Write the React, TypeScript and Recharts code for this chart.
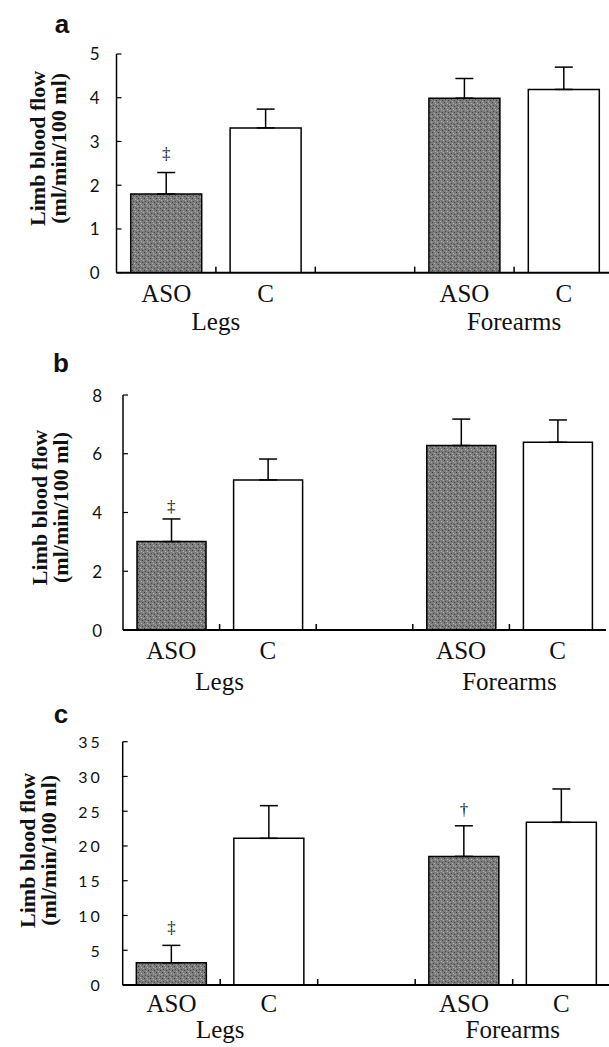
import React from 'react';
import { ComposedChart, Bar, Cell, ErrorBar, XAxis, YAxis, Scatter } from 'recharts';

// ---- shared categories ----
const categories = ['ASO', 'C', '', 'ASO', 'C'];
const catKeys = ['legs-ASO', 'legs-C', 'gap', 'fore-ASO', 'fore-C'];
const isPatient = [true, false, false, true, false];
// boundary tick marks sit after these category indices
const boundaryAfter = [0, 1, 2, 3];
// group labels are centred on the boundary after these category indices
const groupAfter = [0, 3];
const groupLabels = ['Legs', 'Forearms'];

// ---- panel a ----
const aValues = [1.8, 3.31, null, 3.99, 4.19];
const aErrors = [0.49, 0.43, null, 0.45, 0.51];
const aMarks = ['‡', '', '', '', ''];
const aMarkY = [2.72, null, null, null, null];
const aTicks = [0, 1, 2, 3, 4, 5];

// ---- panel b ----
const bValues = [3.01, 5.11, null, 6.28, 6.39];
const bErrors = [0.77, 0.71, null, 0.9, 0.76];
const bMarks = ['‡', '', '', '', ''];
const bMarkY = [4.2, null, null, null, null];
const bTicks = [0, 2, 4, 6, 8];

// ---- panel c ----
const cValues = [3.2, 21.1, null, 18.5, 23.4];
const cErrors = [2.5, 4.7, null, 4.4, 4.8];
const cMarks = ['‡', '', '', '†', ''];
const cMarkY = [8.2, null, null, 25.2, null];
const cTicks = [0, 5, 10, 15, 20, 25, 30, 35];

function buildRows(values: (number | null)[], errors: (number | null)[], marks: string[], markY: (number | null)[]) {
  return catKeys.map((k, i) => ({
    key: k,
    label: categories[i],
    value: values[i],
    err: errors[i] == null ? null : [0, errors[i]],
    mark: marks[i],
    markY: markY[i],
    patient: isPatient[i],
  }));
}

const SERIF = '"Liberation Serif", "Times New Roman", serif';
const SANS_TICK = 'Lato, "DejaVu Sans", sans-serif';

type PanelCfg = {
  letter: string;
  top: number;
  plotTop: number;
  plotLeft: number;
  plotWidth: number;
  plotHeight: number;
  ticks: number[];
  rows: any[];
  tickGap: number;
  tickFont: number;
  tickSpacing: number;
  titleX1: number;
  titleX2: number;
  titleShift: number;
  gapPct: string;
  catDy: number;
  grpDy: number;
};

const panels: PanelCfg[] = [
  {
    letter: 'a', top: 0, plotTop: 54, plotLeft: 116.5, plotWidth: 497, plotHeight: 218.7,
    ticks: aTicks, rows: buildRows(aValues, aErrors, aMarks, aMarkY),
    tickGap: 17, tickFont: 17, tickSpacing: 0, titleX1: 37, titleX2: 58, titleShift: -15, gapPct: '14.3%',
    catDy: 29, grpDy: 57,
  },
  {
    letter: 'b', top: 340, plotTop: 55, plotLeft: 123, plotWidth: 483, plotHeight: 235,
    ticks: bTicks, rows: buildRows(bValues, bErrors, bMarks, bMarkY),
    tickGap: 21, tickFont: 17, tickSpacing: 0, titleX1: 39, titleX2: 60, titleShift: -5, gapPct: '14.5%',
    catDy: 28.5, grpDy: 59.5,
  },
  {
    letter: 'c', top: 690, plotTop: 51.7, plotLeft: 122.7, plotWidth: 487.5, plotHeight: 243.3,
    ticks: cTicks, rows: buildRows(cValues, cErrors, cMarks, cMarkY),
    tickGap: 20, tickFont: 16, tickSpacing: 3, titleX1: 28, titleX2: 49, titleShift: -13, gapPct: '14%',
    catDy: 27, grpDy: 53,
  },
];

const letterPos = [
  { x: 62, y: 33 },
  { x: 61, y: 372 },
  { x: 61, y: 723 },
];

function XTick(props: any) {
  const { x, y, payload, band, catDy, grpDy } = props;
  const i = catKeys.indexOf(payload.value);
  const half = band / 2;
  const gi = groupAfter.indexOf(i);
  return (
    <g>
      {boundaryAfter.includes(i) && (
        <line x1={x + half} x2={x + half} y1={y} y2={y - 6} stroke="#000" strokeWidth={1.5} />
      )}
      <text x={x} y={y + catDy} textAnchor="middle" fontFamily={SERIF} fontSize={25} fill="#111">
        {categories[i]}
      </text>
      {gi >= 0 && (
        <text x={x + half} y={y + grpDy} textAnchor="middle" fontFamily={SERIF} fontSize={25} fill="#111">
          {groupLabels[gi]}
        </text>
      )}
    </g>
  );
}

function YTick(props: any) {
  const { x, y, payload, gap, font, spacing } = props;
  return (
    <g>
      <line x1={x} x2={x + 5} y1={y} y2={y} stroke="#000" strokeWidth={1.2} />
      <text
        x={x - gap}
        y={y}
        textAnchor="end"
        dominantBaseline="central"
        fontFamily={SANS_TICK}
        fontSize={font}
        letterSpacing={spacing}
        fill="#111"
      >
        {payload.value}
      </text>
    </g>
  );
}

function YTitle(props: any) {
  const { cfg } = props;
  const cy = cfg.plotTop + cfg.plotHeight / 2 + cfg.titleShift;
  return (
    <g>
      <text
        x={cfg.titleX1}
        y={cy}
        transform={`rotate(-90, ${cfg.titleX1}, ${cy})`}
        textAnchor="middle"
        dominantBaseline="central"
        fontFamily={SERIF}
        fontWeight="bold"
        fontSize={22}
        fill="#111"
      >
        Limb blood flow
      </text>
      <text
        x={cfg.titleX2}
        y={cy}
        transform={`rotate(-90, ${cfg.titleX2}, ${cy})`}
        textAnchor="middle"
        dominantBaseline="central"
        fontFamily={SERIF}
        fontWeight="bold"
        fontSize={22}
        fill="#111"
      >
        (ml/min/100 ml)
      </text>
    </g>
  );
}

function MarkShape(props: any) {
  const { cx, cy, payload } = props;
  if (cx == null || cy == null || !payload || !payload.mark) return <g />;
  return (
    <text x={cx} y={cy} textAnchor="middle" dominantBaseline="central" fontFamily={SERIF} fontSize={17} fill="#111" stroke="none">
      {payload.mark}
    </text>
  );
}

function Panel({ cfg }: { cfg: PanelCfg }) {
  const yMax = cfg.ticks[cfg.ticks.length - 1];
  const width = cfg.plotLeft + cfg.plotWidth + 10;
  const catH = 80;
  const height = cfg.plotTop + cfg.plotHeight + catH;
  const band = cfg.plotWidth / catKeys.length;
  return (
    <div style={{ position: 'absolute', left: 0, top: cfg.top }}>
      <ComposedChart
        width={width}
        height={height}
        data={cfg.rows}
        margin={{ top: cfg.plotTop, left: 0, right: 10, bottom: 0 }}
        barCategoryGap={cfg.gapPct}
      >
        <XAxis
          dataKey="key"
          interval={0}
          axisLine={{ stroke: '#000', strokeWidth: 2 }}
          tickLine={false}
          tickSize={0}
          tickMargin={0}
          height={catH}
          tick={<XTick band={band} catDy={cfg.catDy} grpDy={cfg.grpDy} />}
        />
        <XAxis
          xAxisId="top"
          orientation="top"
          dataKey="key"
          tick={false}
          tickLine={false}
          axisLine={{ stroke: '#000', strokeWidth: 1.5 }}
          height={0}
        />
        <YAxis
          domain={[0, yMax]}
          ticks={cfg.ticks}
          interval={0}
          allowDataOverflow
          width={cfg.plotLeft}
          axisLine={{ stroke: '#000', strokeWidth: 1.5 }}
          tickLine={false}
          tickSize={0}
          tickMargin={0}
          tick={<YTick gap={cfg.tickGap} font={cfg.tickFont} spacing={cfg.tickSpacing} />}
          label={<YTitle cfg={cfg} />}
        />
        <YAxis
          yAxisId="r"
          orientation="right"
          domain={[0, yMax]}
          tick={false}
          tickLine={false}
          axisLine={{ stroke: '#000', strokeWidth: 1.5 }}
          width={0}
        />
        <Bar dataKey="value" stroke="#000" strokeWidth={1.5} isAnimationActive={false}>
          {cfg.rows.map((r, i) => (
            <Cell key={i} fill={r.patient ? 'url(#speckle)' : '#ffffff'} />
          ))}
          <ErrorBar dataKey="err" width={9} stroke="#000" strokeWidth={1.5} direction="y" />
        </Bar>
        <Scatter dataKey="markY" fill="#111" shape={<MarkShape />} isAnimationActive={false} />
      </ComposedChart>
    </div>
  );
}

export default function App() {
  return (
    <div
      style={{
        position: 'absolute',
        left: 0,
        top: 0,
        width: 609,
        height: 1047,
        overflow: 'hidden',
        background: '#fff',
      }}
    >
      <svg width={0} height={0} style={{ position: 'absolute' }}>
        <defs>
          <pattern id="speckle" width="6" height="6" patternUnits="userSpaceOnUse">
            <rect width="6" height="6" fill="#7c7c7c" />
            <rect x="0" y="0" width="1" height="1" fill="#3c3c3c" />
            <rect x="3" y="1" width="1" height="1" fill="#b8b8b8" />
            <rect x="1" y="3" width="1" height="1" fill="#4a4a4a" />
            <rect x="4" y="4" width="1" height="1" fill="#444444" />
            <rect x="5" y="2" width="1" height="1" fill="#a9a9a9" />
            <rect x="2" y="5" width="1" height="1" fill="#b0b0b0" />
          </pattern>
        </defs>
      </svg>
      {panels.map((p) => (
        <Panel key={p.letter} cfg={p} />
      ))}
      <svg width={609} height={1047} style={{ position: 'absolute', left: 0, top: 0, pointerEvents: 'none' }}>
        {panels.map((p, i) => (
          <text
            key={p.letter}
            x={letterPos[i].x}
            y={letterPos[i].y}
            textAnchor="middle"
            fontFamily='"Liberation Sans", Arial, sans-serif'
            fontWeight="bold"
            fontSize={26}
            fill="#111"
          >
            {p.letter}
          </text>
        ))}
      </svg>
    </div>
  );
}
